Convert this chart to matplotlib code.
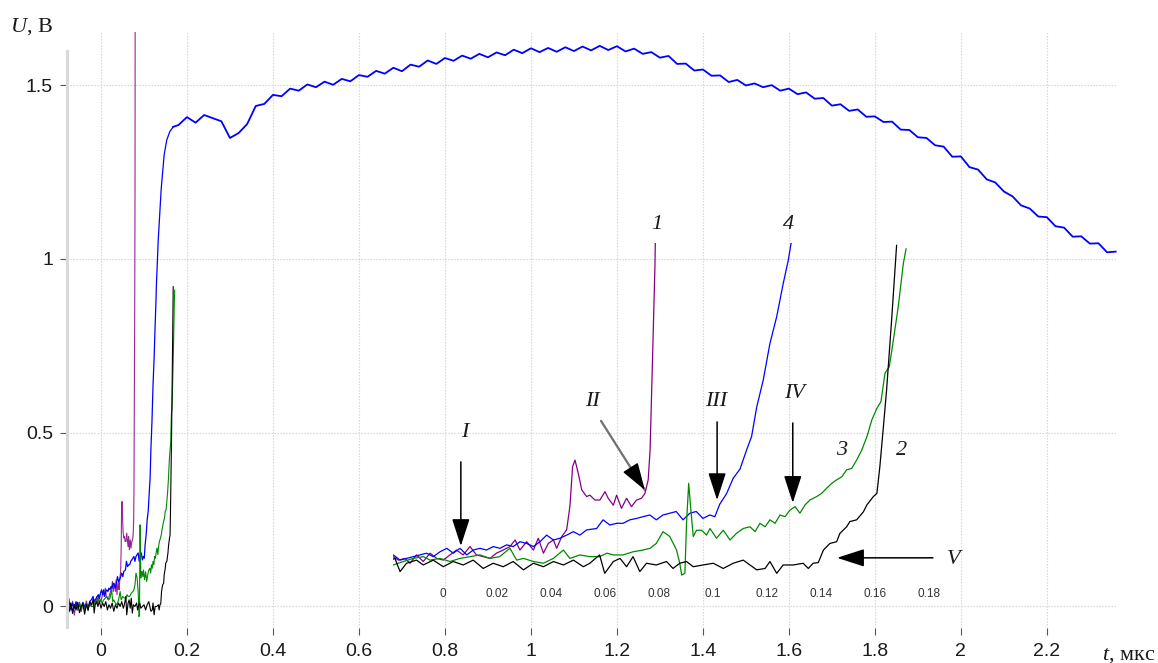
import numpy as np
import matplotlib.pyplot as plt

plt.rcParams['font.family'] = ['Liberation Sans', 'DejaVu Sans']
plt.rcParams['mathtext.fontset'] = 'custom'
plt.rcParams['mathtext.it'] = 'Liberation Serif:italic'
plt.rcParams['mathtext.rm'] = 'Liberation Serif'

# early part, t in mks, U in V (same data in main axes and in the magnified inset)
pre_t = [-0.078, -0.074, -0.070, -0.066, -0.062, -0.058, -0.054, -0.050,
         -0.046, -0.042, -0.038, -0.034, -0.030, -0.026, -0.022]

purple_t = pre_t + [-0.0184, -0.0165, -0.0141, -0.0122, -0.0098, -0.0073, -0.0048, -0.0023,
                    0.0001, 0.0026, 0.005, 0.0075, 0.01, 0.0124, 0.0149, 0.0174, 0.0198,
                    0.0223, 0.0248, 0.0267, 0.0285, 0.031, 0.0335, 0.0353, 0.0372, 0.039,
                    0.0409, 0.0421, 0.044, 0.0458, 0.047, 0.048, 0.0489, 0.0501, 0.0514,
                    0.0532, 0.0544, 0.0563, 0.0581, 0.06, 0.0612, 0.0631, 0.0643, 0.0661,
                    0.068, 0.0698, 0.0717, 0.0735, 0.0748, 0.076, 0.0767, 0.0777, 0.0785,
                    0.0792, 0.0797]
purple_u = [0.005, 0.022, -0.012, 0.015, -0.025, 0.01, -0.006, 0.012, -0.015, 0.008,
            -0.01, 0.016, -0.004, 0.01, 0.0] + \
           [0.024, 0.014, 0.019, 0.005, 0.029, 0.01, 0.034, 0.019, 0.014, 0.029, 0.043,
            0.029, 0.053, 0.029, 0.024, 0.019, 0.034, 0.043, 0.053, 0.072, 0.043, 0.067,
            0.043, 0.077, 0.034, 0.062, 0.072, 0.048, 0.082, 0.101, 0.168, 0.283, 0.302,
            0.264, 0.216, 0.197, 0.201, 0.187, 0.187, 0.211, 0.192, 0.172, 0.201, 0.163,
            0.192, 0.168, 0.187, 0.192, 0.206, 0.245, 0.33, 0.62, 0.86, 1.2, 1.9]

blue_t = pre_t + [-0.0184, -0.0159, -0.0135, -0.011, -0.0085, -0.0061, -0.0036, -0.0011,
                  0.0014, 0.0038, 0.0063, 0.0088, 0.0112, 0.0137, 0.0161, 0.0186, 0.0211,
                  0.0236, 0.026, 0.0285, 0.031, 0.0335, 0.0359, 0.0384, 0.0409, 0.0433,
                  0.0458, 0.0483, 0.0507, 0.0532, 0.0569, 0.0593, 0.0618, 0.0643, 0.0667,
                  0.0692, 0.0717, 0.0741, 0.0766, 0.079, 0.0815, 0.084, 0.0864, 0.0889,
                  0.0914, 0.0938, 0.0963, 0.0988, 0.1007, 0.1025, 0.105, 0.1075, 0.11,
                  0.1124, 0.1143, 0.1162, 0.1186, 0.1211, 0.1236, 0.126, 0.1279, 0.1288,
                  0.133, 0.14, 0.147, 0.153, 0.16, 0.168]
blue_u = [0.0, 0.012, -0.008, 0.01, -0.005, 0.014, -0.01, 0.006, -0.004, 0.012, 0.0,
          0.008, -0.006, 0.015, 0.02] + \
         [0.029, 0.014, 0.019, 0.024, 0.029, 0.034, 0.024, 0.038, 0.048, 0.034, 0.048,
          0.029, 0.043, 0.048, 0.043, 0.053, 0.048, 0.058, 0.053, 0.067, 0.062, 0.053,
          0.067, 0.086, 0.072, 0.077, 0.086, 0.096, 0.086, 0.101, 0.105, 0.13, 0.115,
          0.12, 0.12, 0.13, 0.134, 0.139, 0.144, 0.13, 0.144, 0.149, 0.154, 0.13, 0.149,
          0.154, 0.134, 0.144, 0.139, 0.175, 0.205, 0.25, 0.276, 0.33, 0.37, 0.455, 0.532,
          0.638, 0.715, 0.81, 0.878, 0.921, 1.05, 1.2, 1.3, 1.342, 1.366, 1.38]

green_t = pre_t + [-0.0184, -0.0147, -0.011, -0.0073, -0.0048, -0.0011, 0.0026, 0.0063,
                   0.01, 0.0137, 0.0174, 0.021, 0.0248, 0.0273, 0.0298, 0.0335, 0.0372,
                   0.0409, 0.0446, 0.047, 0.0507, 0.0544, 0.058, 0.0607, 0.0631, 0.0667,
                   0.0704, 0.0741, 0.0767, 0.079, 0.0815, 0.084, 0.0865, 0.0877, 0.0884,
                   0.0896, 0.0902, 0.091, 0.0917, 0.0927, 0.0939, 0.0958, 0.0976, 0.0989,
                   0.1013, 0.1038, 0.1063, 0.1087, 0.1112, 0.1137, 0.1156, 0.1174, 0.1193,
                   0.1211, 0.123, 0.1248, 0.1267, 0.1285, 0.1304, 0.1322, 0.1341, 0.1359,
                   0.1384, 0.1402, 0.1421, 0.144, 0.1458, 0.1477, 0.1495, 0.1514, 0.1532,
                   0.1551, 0.157, 0.1588, 0.1607, 0.1622, 0.1637, 0.1653, 0.1668, 0.1686,
                   0.1705, 0.1715]
green_u = [0.01, -0.006, 0.008, -0.012, 0.004, 0.0, -0.01, 0.012, -0.004, 0.006, -0.008,
           0.01, -0.002, 0.004, 0.0] + \
          [0.0, 0.01, 0.019, 0.024, 0.014, 0.019, 0.01, 0.019, 0.024, 0.029, 0.019, 0.024,
           0.048, 0.014, 0.019, 0.01, 0.005, 0.019, 0.043, 0.019, 0.029, 0.024, 0.024,
           0.034, 0.029, 0.029, 0.038, 0.043, 0.048, 0.062, 0.096, 0.082, 0.043, 0.005,
           -0.029, -0.024, 0.12, 0.235, 0.168, 0.082, 0.1, 0.1, 0.086, 0.105, 0.077, 0.1,
           0.072, 0.091, 0.105, 0.11, 0.096, 0.12, 0.11, 0.13, 0.12, 0.144, 0.139, 0.158,
           0.168, 0.149, 0.173, 0.187, 0.197, 0.206, 0.221, 0.235, 0.245, 0.254, 0.274,
           0.278, 0.302, 0.331, 0.369, 0.417, 0.451, 0.47, 0.552, 0.571, 0.647, 0.743,
           0.868, 0.91]

black_t = pre_t + [-0.0178, -0.0159, -0.0135, -0.0098, -0.0073, -0.0036, 0.0001, 0.0038,
                   0.0075, 0.0112, 0.0149, 0.0186, 0.0223, 0.026, 0.0298, 0.0335, 0.0372,
                   0.0409, 0.0446, 0.0483, 0.052, 0.0544, 0.058, 0.0599, 0.0631, 0.0656,
                   0.068, 0.0704, 0.0729, 0.0754, 0.079, 0.0828, 0.0852, 0.0877, 0.0902,
                   0.0927, 0.0963, 0.1001, 0.1038, 0.1075, 0.1112, 0.1162, 0.1193, 0.1211,
                   0.1236, 0.126, 0.1297, 0.1334, 0.1353, 0.1371, 0.139, 0.1409, 0.1433,
                   0.1458, 0.147, 0.1495, 0.1507, 0.1532, 0.1557, 0.157, 0.1594, 0.1607,
                   0.1618, 0.163, 0.1643, 0.1662, 0.168]
black_u = [0.004, -0.015, 0.01, -0.02, 0.006, -0.01, 0.012, -0.018, 0.0, 0.008, -0.022,
           0.006, -0.012, 0.014, 0.005] + \
          [0.019, -0.019, 0.005, 0.014, 0.0, 0.014, -0.005, 0.01, 0.0, 0.014, -0.01, 0.005,
           -0.005, 0.01, -0.014, 0.005, -0.005, 0.01, 0.0, 0.014, -0.005, 0.005, 0.029,
           -0.024, 0.01, 0.019, -0.005, 0.024, -0.019, 0.005, 0.0, 0.01, -0.01, 0.005,
           0.01, -0.005, 0.0, 0.005, -0.01, 0.005, 0.014, -0.014, -0.01, 0.01, -0.024,
           0.0, 0.0, 0.005, -0.01, 0.005, 0.007, 0.043, 0.062, 0.067, 0.091, 0.11, 0.125,
           0.13, 0.153, 0.173, 0.197, 0.206, 0.283, 0.388, 0.504, 0.71, 0.92]

# main pulse of curve 4 after the breakdown, sampled every 0.02 mks from 0.18 to 2.36
blue_long_u = [1.385, 1.408, 1.392, 1.414, 1.405, 1.396, 1.348, 1.362, 1.388, 1.44,
               1.446, 1.472, 1.468, 1.49, 1.484, 1.502, 1.494, 1.51, 1.501, 1.518,
               1.511, 1.529, 1.524, 1.541, 1.533, 1.55, 1.54, 1.559, 1.553, 1.571,
               1.561, 1.578, 1.57, 1.585, 1.576, 1.59, 1.58, 1.594, 1.586, 1.602,
               1.592, 1.606, 1.595, 1.607, 1.596, 1.609, 1.598, 1.611, 1.6, 1.613,
               1.601, 1.612, 1.597, 1.605, 1.59, 1.595, 1.579, 1.584, 1.561, 1.562,
               1.542, 1.545, 1.527, 1.528, 1.509, 1.515, 1.499, 1.505, 1.494, 1.5,
               1.484, 1.49, 1.474, 1.479, 1.461, 1.463, 1.441, 1.445, 1.426, 1.43,
               1.409, 1.41, 1.394, 1.395, 1.372, 1.371, 1.35, 1.348, 1.327, 1.323,
               1.294, 1.295, 1.264, 1.257, 1.229, 1.22, 1.194, 1.18, 1.154, 1.145,
               1.122, 1.12, 1.094, 1.09, 1.064, 1.065, 1.044, 1.045, 1.019, 1.021]
blue_long_t = np.linspace(0.18, 2.36, len(blue_long_u))

main_xticks = [0, 0.2, 0.4, 0.6, 0.8, 1.0, 1.2, 1.4, 1.6, 1.8, 2.0, 2.2]
main_yticks = [0, 0.5, 1, 1.5]
inset_xticks = [0, 0.02, 0.04, 0.06, 0.08, 0.1, 0.12, 0.14, 0.16, 0.18]

C_PURPLE = '#850085'
C_BLUE = '#0000ff'
C_GREEN = '#008a00'
C_BLACK = '#000000'

fig = plt.figure(figsize=(11.58, 6.63), dpi=100)
ax = fig.add_axes([0.05786, 0.0528, 0.9067, 0.899])

ax.plot(purple_t, purple_u, color=C_PURPLE, lw=0.8, alpha=0.85)
ax.plot(blue_t, blue_u, color=C_BLUE, lw=0.9)
ax.plot([blue_t[-1]] + list(blue_long_t), [blue_u[-1]] + blue_long_u, color=C_BLUE, lw=1.3)
ax.plot(green_t, green_u, color=C_GREEN, lw=0.8)
ax.plot(black_t, black_u, color=C_BLACK, lw=0.8)

ax.set_xlim(-0.079, 2.363)
ax.set_ylim(-0.0619, 1.653)
ax.set_xticks(main_xticks)
ax.set_yticks(main_yticks)
ax.set_xticklabels(['%g' % v for v in main_xticks])
ax.set_yticklabels(['%g' % v for v in main_yticks])
ax.grid(True, color='#d2d2d2', linestyle=(0, (1.2, 1.5)), linewidth=0.8)
for s in ['top', 'right', 'bottom']:
    ax.spines[s].set_visible(False)
ax.spines['left'].set_color('#d9d9d9')
ax.spines['left'].set_linewidth(2.2)
ax.spines['left'].set_bounds(-0.06, 1.597)
ax.tick_params(axis='both', direction='out', length=5, width=0.8, color='#555555',
               labelsize=14, labelcolor='#1a1a1a')
ax.tick_params(axis='x', pad=6)
ax.tick_params(axis='y', pad=5)

# magnified view of the early stage
ins = fig.add_axes([0.3394, 0.1164, 0.4745, 0.5171])
ins.patch.set_visible(False)
ins.plot(purple_t, purple_u, color=C_PURPLE, lw=0.9)
ins.plot(blue_t, blue_u, color=C_BLUE, lw=0.9)
ins.plot(green_t, green_u, color=C_GREEN, lw=0.9)
ins.plot(black_t, black_u, color=C_BLACK, lw=0.9)
ins.set_xlim(-0.0185, 0.185)
ins.set_ylim(-0.06, 0.927)
ins.set_xticks(inset_xticks)
ins.set_xticklabels(['%g' % v for v in inset_xticks])
ins.set_yticks([])
for s in ins.spines.values():
    s.set_visible(False)
ins.tick_params(axis='x', length=0, pad=1.5, labelsize=8.5, labelcolor='#333333')

lab = dict(fontsize=16, family='Liberation Serif', style='italic', color='#1a1a1a',
           ha='center', va='center')
ax.text(0.847, 0.502, 'I', **lab)
ax.text(1.142, 0.589, 'II', **lab)
ax.text(1.430, 0.589, 'III', **lab)
ax.text(1.614, 0.614, 'IV', **lab)
ax.text(1.984, 0.134, 'V', **lab)
ax.text(1.293, 1.10, '1', **lab)
ax.text(1.600, 1.10, '4', **lab)
ax.text(1.723, 0.45, '3', **lab)
ax.text(1.863, 0.45, '2', **lab)

head = dict(arrowstyle='-|>,head_length=17,head_width=5.5', mutation_scale=1,
            color='black', lw=1.1, shrinkA=0, shrinkB=0)
ax.annotate('', xy=(0.837, 0.174), xytext=(0.837, 0.416), arrowprops=head)
ax.annotate('', xy=(1.433, 0.306), xytext=(1.433, 0.531), arrowprops=head)
ax.annotate('', xy=(1.609, 0.298), xytext=(1.609, 0.528), arrowprops=head)
ax.annotate('', xy=(1.712, 0.140), xytext=(1.935, 0.140), arrowprops=head)
ax.annotate('', xy=(1.265, 0.335), xytext=(1.163, 0.534),
            arrowprops=dict(arrowstyle='-', color='#707070', lw=1.6, shrinkA=0, shrinkB=0))
ax.annotate('', xy=(1.265, 0.335), xytext=(1.233, 0.397), arrowprops=head)

fig.text(10 / 1158, 0.9517, '$U$, В', fontsize=16, family='Liberation Serif',
         ha='left', va='baseline', color='#1a1a1a')
fig.text(1102 / 1158, 0.005, '$t$, мкс', fontsize=16, family='Liberation Serif',
         ha='left', va='baseline', color='#1a1a1a')

fig.savefig('out.png', dpi=100)
